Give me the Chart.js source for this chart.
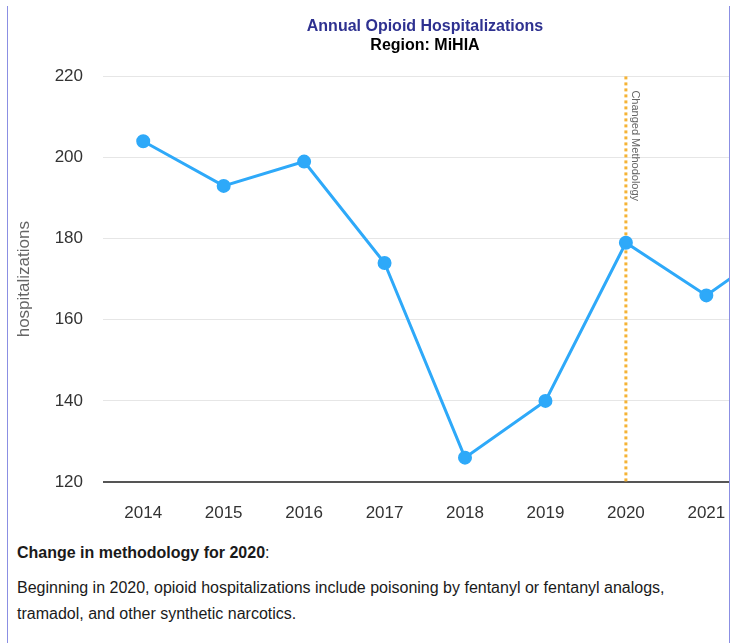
<!DOCTYPE html>
<html>
<head>
<meta charset="utf-8">
<script src="https://cdn.jsdelivr.net/npm/chart.js@4.4.0/dist/chart.umd.min.js"></script>
<style>
body { margin: 0; background: #fff; font-family: "Liberation Sans", Arial, sans-serif; }
#panel { position: absolute; left: 7px; top: 6px; width: 721px; height: 650px;
         border-left: 1px solid #8b8fe3; border-right: 1px solid #8b8fe3; overflow: hidden; }
#wrap { width: 834px; height: 530px; margin-top: 1px; }
#note { padding-left: 9px; font-size: 16px; color: #1a1a1a; }
#note .head { line-height: 26px; margin-top: 3px; }
#note p { margin: 9px 0 0 0; line-height: 26px; }
</style>
</head>
<body>
<div id="panel">
  <div id="wrap"><canvas id="opioid-chart" width="834" height="530"></canvas></div>
  <div id="note">
    <div class="head"><b>Change in methodology for 2020</b>:</div>
    <p>Beginning in 2020, opioid hospitalizations include poisoning by fentanyl or fentanyl analogs,<br>tramadol, and other synthetic narcotics.</p>
  </div>
</div>
<script>
const years = ['2014', '2015', '2016', '2017', '2018', '2019', '2020', '2021', '2022'];
const hospitalizations = [204, 193, 199, 174, 126, 140, 179, 166, 180];
const yTicks = [120, 140, 160, 180, 200, 220];
const changeYear = '2020';
const changeLabel = 'Changed Methodology';

// dashed vertical marker at the methodology change
const methodLine = {
    id: 'methodLine',
    beforeDatasetsDraw(chart) {
        const c = chart.ctx;
        const area = chart.chartArea;
        const x = chart.scales.x.getPixelForValue(years.indexOf(changeYear));
        c.save();
        c.strokeStyle = '#f5b335';
        c.lineWidth = 3;
        c.setLineDash([3, 3]);
        c.beginPath();
        c.moveTo(x, area.top);
        c.lineTo(x, area.bottom);
        c.stroke();
        c.setLineDash([]);
        c.translate(x + 9, area.top + 14);
        c.rotate(Math.PI / 2);
        c.fillStyle = '#666';
        c.font = '11px "Liberation Sans", Arial, sans-serif';
        c.textAlign = 'left';
        c.textBaseline = 'middle';
        c.fillText(changeLabel, 0, 0);
        c.restore();
    }
};

const ctx = document.getElementById('opioid-chart').getContext('2d');
const chartOpioid = new Chart(ctx, {
    type: 'line',
    data: {
        labels: years,
        datasets: [{
            label: 'hospitalizations',
            data: hospitalizations,
            borderColor: '#2ea9f9',
            backgroundColor: '#2ea9f9',
            borderWidth: 3,
            pointRadius: 5.5,
            pointHoverRadius: 5.5,
            tension: 0
        }]
    },
    options: {
        responsive: false,
        animation: false,
        layout: { padding: { left: 15, right: 15, top: 0, bottom: 5 } },
        plugins: {
            legend: { display: false },
            tooltip: { enabled: false },
            title: {
                display: true,
                text: 'Annual Opioid Hospitalizations',
                color: '#2e3190',
                font: { family: '"Liberation Sans", Arial, sans-serif', size: 16, weight: 'bold' },
                padding: { top: 10, bottom: 0 }
            },
            subtitle: {
                display: true,
                text: 'Region: MiHIA',
                color: '#000',
                font: { family: '"Liberation Sans", Arial, sans-serif', size: 16, weight: 'bold' },
                padding: { top: 0, bottom: 21 }
            }
        },
        scales: {
            x: {
                offset: true,
                grid: { display: false },
                border: { display: false },
                ticks: {
                    color: '#333',
                    padding: 13,
                    font: { family: '"Liberation Sans", Arial, sans-serif', size: 17 }
                },
                afterFit(scale) { scale.height = 50; }
            },
            y: {
                min: 120,
                max: 220,
                afterBuildTicks(scale) { scale.ticks = yTicks.map(v => ({ value: v })); },
                grid: {
                    drawTicks: false,
                    color: c => c.tick && c.tick.value === 120 ? '#555' : '#e6e6e6',
                    lineWidth: c => c.tick && c.tick.value === 120 ? 2 : 1
                },
                border: { display: false },
                ticks: {
                    color: '#333',
                    padding: 20,
                    font: { family: '"Liberation Sans", Arial, sans-serif', size: 17 }
                },
                title: {
                    display: true,
                    text: 'hospitalizations',
                    color: '#666',
                    padding: { top: -9, bottom: 0 },
                    font: { family: '"Liberation Sans", Arial, sans-serif', size: 17 }
                },
                afterFit(scale) { scale.width = 80; }
            }
        }
    },
    plugins: [methodLine]
});
</script>
</body>
</html>
